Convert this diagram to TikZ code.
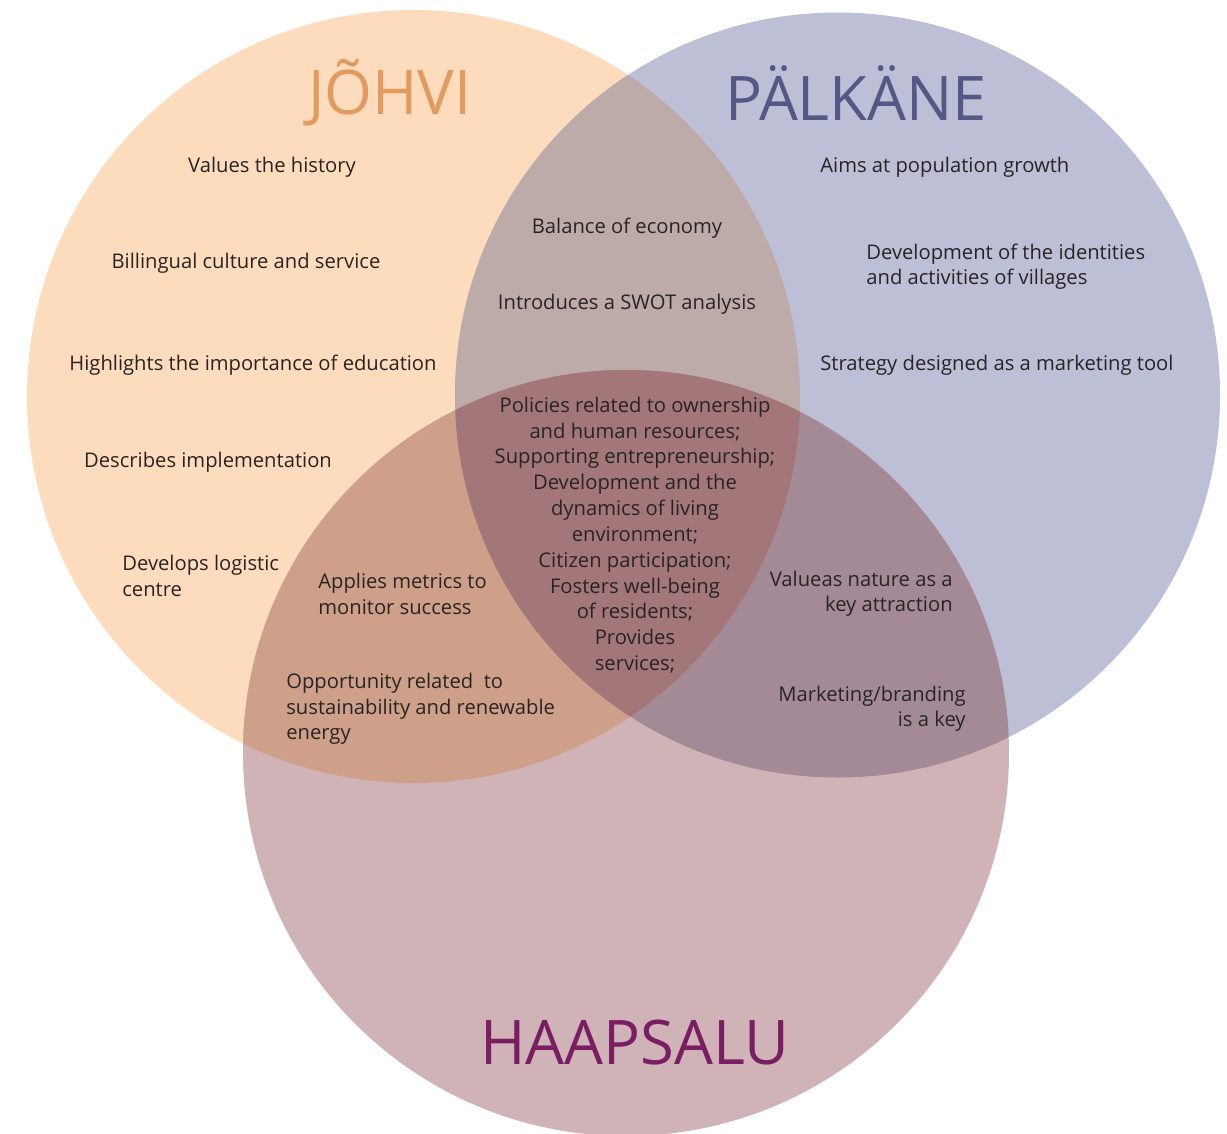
\documentclass[tikz,border=0pt]{standalone}
\usepackage{fontspec}
\setmainfont{Open Sans}
\definecolor{johvifill}{RGB}{253,220,189}
\definecolor{palkfill}{RGB}{189,191,214}
\definecolor{haapfill}{RGB}{207,179,182}
\definecolor{jpfill}{RGB}{189,171,169}
\definecolor{jhfill}{RGB}{207,160,137}
\definecolor{phfill}{RGB}{164,138,151}
\definecolor{allfill}{RGB}{163,119,122}
\definecolor{johvitxt}{RGB}{226,154,95}
\definecolor{palktxt}{RGB}{85,88,132}
\definecolor{haaptxt}{RGB}{122,30,100}
\definecolor{bodytxt}{RGB}{40,36,36}

\begin{document}
\begin{tikzpicture}[x=0.02cm,y=-0.02cm,
    item/.style={text=bodytxt,inner sep=0pt,font=\fontsize{11.5}{14.4}\selectfont},
    title/.style={inner sep=0pt,font=\fontsize{35}{38}\selectfont}]
            \useasboundingbox (0,0) rectangle (1227,1133);

            \coordinate (jc) at (413.5,396.5);
            \coordinate (pc) at (837.5,395);
            \coordinate (hc) at (626,753);

            \fill[johvifill] (jc) circle (386.5);
            \fill[palkfill] (pc) circle (382.5);
            \fill[haapfill] (hc) circle (383);

            \begin{scope}
                \clip (jc) circle (386.5);
                \fill[jpfill] (pc) circle (382.5);
                \fill[jhfill] (hc) circle (383);
            \end{scope}
            \begin{scope}
                \clip (pc) circle (382.5);
                \fill[phfill] (hc) circle (383);
                \clip (hc) circle (383);
                \fill[allfill] (jc) circle (386.5);
            \end{scope}

            \node[title,text=johvitxt] (johvi) at (390,93) {JÕHVI};
            \node[title,text=palktxt] (palk) at (856,93) {PÄLKÄNE};
            \node[title,text=haaptxt] (haap) at (635,1043) {HAAPSALU};

            \node[item] (history) at (272,167) {Values the history};
            \node[item] (bilingual) at (246,263) {Billingual culture and service};
            \node[item] (education) at (253,365) {Highlights the importance of education};
            \node[item] (implement) at (208,462) {Describes implementation};
            \node[item,anchor=west,align=left] (logistic) at (122,576) {Develops logistic\\centre};

            \node[item] (balance) at (627,228) {Balance of economy};
            \node[item] (swot) at (627,304) {Introduces a SWOT analysis};

            \node[item,anchor=west] (growth) at (820,167) {Aims at population growth};
            \node[item,anchor=west,align=left] (villages) at (866,267) {Development of the identities\\and activities of villages};
            \node[item,anchor=west] (marketing) at (820,365) {Strategy designed as a marketing tool};

            \node[item,anchor=west,align=left] (metrics) at (318,594) {Applies metrics to\\monitor success};
            \node[item,anchor=west,align=left] (energy) at (286,709) {Opportunity related \ to\\sustainability and renewable\\energy};

            \node[item,anchor=east,align=right] (nature) at (953,594) {Valueas nature as a\\key attraction};
            \node[item,anchor=east,align=right] (branding) at (966,709) {Marketing/branding\\is a key};

            \node[item,align=center,font=\fontsize{11.5}{14.7}\selectfont] (common) at (635,535) {Policies related to ownership\\and human resources;\\Supporting entrepreneurship;\\Development and the\\dynamics of living\\environment;\\Citizen participation;\\Fosters well-being\\of residents;\\Provides\\services;};
\end{tikzpicture}
\end{document}
